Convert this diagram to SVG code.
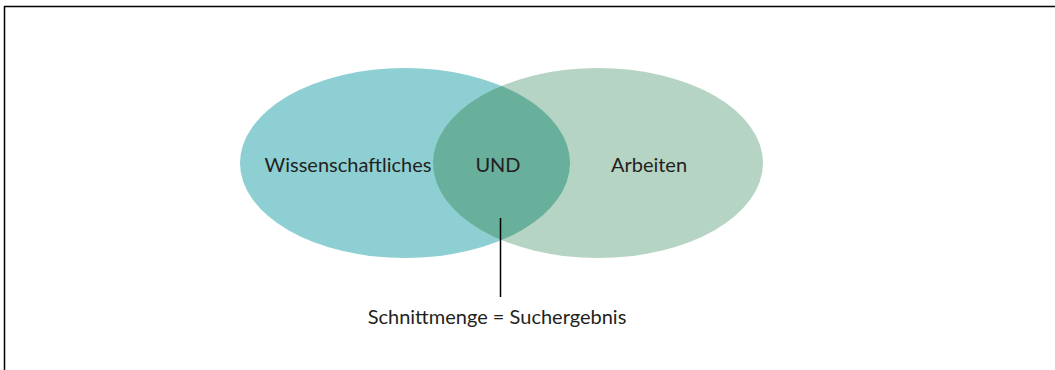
<svg xmlns="http://www.w3.org/2000/svg" width="1055" height="370" viewBox="0 0 1055 370">
<style>
.lbl{font-family:Lato,"Open Sans","Liberation Sans",sans-serif;font-size:20px;fill:#231f20;text-anchor:middle}
</style>
<defs>
<clipPath id="clipL"><ellipse cx="405" cy="163" rx="165" ry="95"/></clipPath>
</defs>
<rect x="0" y="0" width="1055" height="370" fill="#fff"/>
<g id="frame">
<line x1="4.5" y1="6" x2="4.5" y2="370" stroke="#000" stroke-width="1.5"/>
<line x1="4" y1="6.5" x2="1055" y2="6.5" stroke="#000" stroke-width="1.5"/>
</g>
<g id="left">
<ellipse cx="405" cy="163" rx="165" ry="95" fill="#8ecfd3"/>
<text class="lbl" x="348" y="172">Wissenschaftliches</text>
</g>
<g id="right">
<ellipse cx="598" cy="163" rx="165" ry="95" fill="#b6d4c3"/>
<text class="lbl" x="649" y="172">Arbeiten</text>
</g>
<g id="intersection">
<ellipse cx="598" cy="163" rx="165" ry="95" fill="#68af9c" clip-path="url(#clipL)"/>
<text class="lbl" x="498" y="172">UND</text>
</g>
<g id="connectors">
<line x1="500.5" y1="218" x2="500.5" y2="297" stroke="#000" stroke-width="1.5"/>
</g>
<g id="result">
<text class="lbl" x="497" y="324">Schnittmenge = Suchergebnis</text>
</g>
</svg>
